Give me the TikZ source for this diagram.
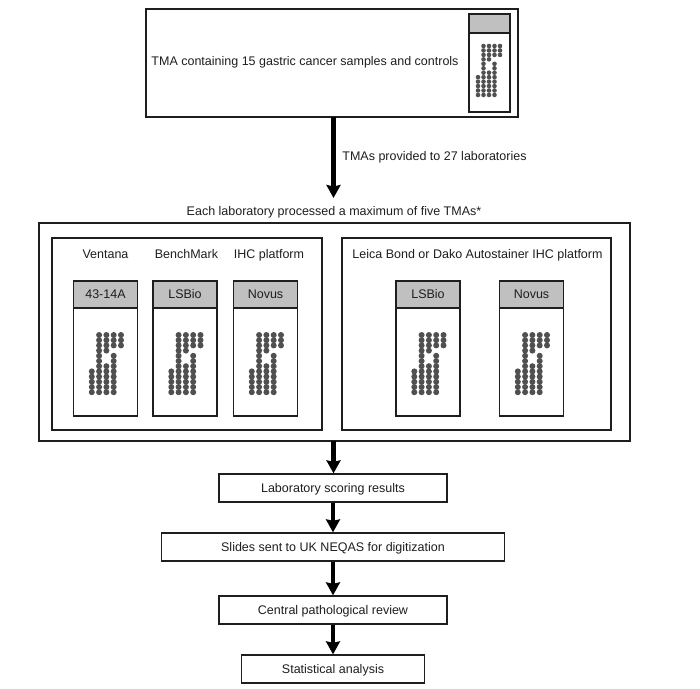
\documentclass[tikz,border=0pt]{standalone}
\usepackage{fontspec}
\setmainfont{Liberation Sans}
\usetikzlibrary{arrows.meta}
\usetikzlibrary{calc}
\usetikzlibrary{positioning}
\definecolor{inkgray}{HTML}{1E1E1E}
\definecolor{headgray}{HTML}{C0C0C0}
\definecolor{spotgray}{HTML}{505050}
\tikzset{
  label font/.style={font=\fontsize{12.5}{14}\selectfont,text=inkgray,
    text height=9pt,text depth=0.5pt,inner sep=0pt},
  flowbox/.style={draw=inkgray,line width=1.3pt,minimum height=28pt,fill=white,label font},
  panel/.style={draw=inkgray,line width=1.3pt,inner sep=0pt},
  slidehead/.style={draw=inkgray,line width=1.3pt,fill=headgray,minimum width=64pt,
    minimum height=27pt,label font},
  slidebody/.style={draw=inkgray,line width=1.3pt,fill=white,minimum width=64pt,
    minimum height=108pt,inner sep=0pt},
  caption/.style={label font},
  flow/.style={-{Stealth[width=14pt,length=13pt,inset=1.5pt]},line width=4.4pt,black},
}
% dots of one array: #1 origin, #2 column step, #3 row step, #4 radius
\newcommand{\spots}[4]{
  \foreach \row/\cols in {0/{1,2,3,4},1/{1,2,3,4},2/{1,2,3,4},3/{1,2},4/{1,3},5/{1,3},
      6/{1,2,3},7/{0,1,2,3},8/{0,1,2,3},9/{0,1,2,3},10/{0,1,2,3},11/{0,1,2,3}}
    \foreach \col in \cols
      \fill[spotgray] ($(#1)+(\col*#2,-\row*#3)$) circle (#4);
}

\begin{document}
\begin{tikzpicture}[x=1pt,y=1pt,
      node distance=59pt,
      on grid]
    \useasboundingbox (0,0) rectangle (700,-688);

    % top box with its slide
    \node[panel,minimum width=372pt,minimum height=108pt]
      (Array) at (332,-63) {};
    \node[caption]
      (ArrayText) at (305,-61.5) {TMA containing 15 gastric cancer samples and controls};
    \node[slidehead,minimum width=41pt,minimum height=19pt]
      (ArrayHead) at (489.5,-23.5) {};
    \node[slidebody,minimum width=41pt,minimum height=79pt]
      (ArrayBody) [below=49pt of ArrayHead] {};
    \coordinate (ArraySpots) at (478,-46);
    \spots{ArraySpots}{5.5}{4.45}{2.3}

    \node[caption]
      (Provided) at (434.5,-156) {TMAs provided to 27 laboratories};
    \node[caption]
      (Each) at (334,-211) {Each laboratory processed a maximum of five TMAs*};

    % staining panels
    \node[panel,minimum width=591pt,minimum height=218pt]
      (Labs) at (334.5,-332) {};
    \node[panel,minimum width=270pt,minimum height=192pt]
      (Ventana) at (187,-334) {};
    \node[panel,minimum width=269pt,minimum height=192pt]
      (Other) at (476.5,-334) {};

    \node[caption] (VentanaText) at (105.5,-254) {Ventana};
    \node[caption] (BenchText) at (186.5,-254) {BenchMark};
    \node[caption] (PlatformText) at (269,-254) {IHC platform};
    \node[caption] (OtherText) at (477.5,-254) {Leica Bond or Dako Autostainer IHC platform};

    \foreach \name/\xpos/\label in {A/105.5/43-14A,B/185/LSBio,C/265.5/Novus,D/428/LSBio,E/531.5/Novus} {
      \node[slidehead] (Head\name) at (\xpos,-294.5) {\label};
      \node[slidebody] (Body\name) [below=67.5pt of Head\name] {};
      \coordinate (Spots\name) at ($(Head\name)+(-13.7,-40.5)$);
      \spots{Spots\name}{7.3}{5.2}{3}
    }

    % flow below the panels
    \node[flowbox,minimum width=228pt]
      (Scoring) at (333,-488) {Laboratory scoring results};
    \node[flowbox,minimum width=343pt]
      (Digitize) [below=of Scoring] {Slides sent to UK NEQAS for digitization};
    \node[flowbox,minimum width=228pt]
      (Review) [below=63pt of Digitize] {Central pathological review};
    \node[flowbox,minimum width=183pt]
      (Stats) [below=of Review] {Statistical analysis};

    \coordinate (ArrayTail) at (333.5,-117);
    \coordinate (ArrayTip) at (333.5,-198);
    \coordinate (LabsTail) at (333.5,-441);

    \draw[flow] (ArrayTail) -- (ArrayTip);
    \draw[flow] (LabsTail) -- (LabsTail |- Scoring.north);
    \draw[flow] (Scoring) -- (Digitize);
    \draw[flow] (Digitize) -- (Review);
    \draw[flow] (Review) -- (Stats);
\end{tikzpicture}
\end{document}
